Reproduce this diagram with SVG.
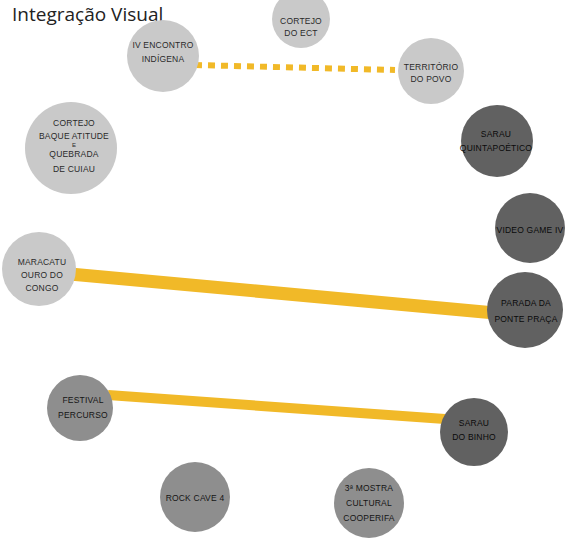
<svg xmlns="http://www.w3.org/2000/svg" width="565" height="540" viewBox="0 0 565 540">
  <style>
    .title { font-family: "Open Sans", "DejaVu Sans", sans-serif; font-size: 19px; fill: #222; }
    .lbl { font-family: "Liberation Sans", Arial, sans-serif; font-size: 8.5px; text-anchor: middle; letter-spacing: 0.2px; }
    .light circle { fill: #c9c9c9; }
    .light text { fill: #2a2a2a; }
    .mid circle { fill: #8e8e8e; }
    .mid text { fill: #151515; }
    .dark circle { fill: #616161; }
    .dark text { fill: #0a0a0a; }
    .link { stroke: #f1b928; fill: none; }
  </style>
  <rect width="565" height="540" fill="#ffffff"/>
  <text class="title" x="12" y="21">Integração Visual</text>

  <!-- connectors -->
  <g id="connectors">
    <line class="link" x1="195" y1="65" x2="395" y2="70" stroke-width="6" stroke-dasharray="7 6"/>
    <line class="link" x1="70" y1="274" x2="495" y2="313" stroke-width="13"/>
    <line class="link" x1="108" y1="395" x2="445" y2="419" stroke-width="10"/>
  </g>

  <!-- nodes -->
  <g id="n-encontro" class="light">
    <circle cx="163" cy="56" r="36"/>
    <text class="lbl" x="163" y="48">IV ENCONTRO</text>
    <text class="lbl" x="163" y="62">INDÍGENA</text>
  </g>
  <g id="n-cortejo-ect" class="light">
    <circle cx="301" cy="19" r="29"/>
    <text class="lbl" x="301" y="24">CORTEJO</text>
    <text class="lbl" x="301" y="36">DO ECT</text>
  </g>
  <g id="n-territorio" class="light">
    <circle cx="431" cy="71" r="33"/>
    <text class="lbl" x="431" y="70">TERRITÓRIO</text>
    <text class="lbl" x="431" y="82">DO POVO</text>
  </g>
  <g id="n-baque" class="light">
    <circle cx="71" cy="148" r="46"/>
    <text class="lbl" x="74" y="126">CORTEJO</text>
    <text class="lbl" x="74" y="139">BAQUE ATITUDE</text>
    <text class="lbl" x="74" y="147" style="font-size:6px">E</text>
    <text class="lbl" x="74" y="157">QUEBRADA</text>
    <text class="lbl" x="74" y="172">DE CUIAU</text>
  </g>
  <g id="n-quinta" class="dark">
    <circle cx="497" cy="141" r="36"/>
    <text class="lbl" x="496" y="137">SARAU</text>
    <text class="lbl" x="496" y="151">QUINTAPOÉTICO</text>
  </g>
  <g id="n-videogame" class="dark">
    <circle cx="530" cy="228" r="35"/>
    <text class="lbl" x="530" y="233">VIDEO GAME IV</text>
  </g>
  <g id="n-maracatu" class="light">
    <circle cx="39" cy="269" r="37"/>
    <text class="lbl" x="42" y="265">MARACATU</text>
    <text class="lbl" x="42" y="278">OURO DO</text>
    <text class="lbl" x="42" y="291">CONGO</text>
  </g>
  <g id="n-parada" class="dark">
    <circle cx="525" cy="310" r="38"/>
    <text class="lbl" x="526" y="306">PARADA DA</text>
    <text class="lbl" x="526" y="322">PONTE PRAÇA</text>
  </g>
  <g id="n-festival" class="mid">
    <circle cx="80" cy="408" r="33"/>
    <text class="lbl" x="83" y="403">FESTIVAL</text>
    <text class="lbl" x="83" y="418">PERCURSO</text>
  </g>
  <g id="n-binho" class="dark">
    <circle cx="474" cy="432" r="34"/>
    <text class="lbl" x="474" y="426">SARAU</text>
    <text class="lbl" x="474" y="440">DO BINHO</text>
  </g>
  <g id="n-rock" class="mid">
    <circle cx="195" cy="497" r="35"/>
    <text class="lbl" x="195" y="501">ROCK CAVE 4</text>
  </g>
  <g id="n-mostra" class="mid">
    <circle cx="369" cy="503" r="35"/>
    <text class="lbl" x="369" y="491">3ª MOSTRA</text>
    <text class="lbl" x="369" y="506">CULTURAL</text>
    <text class="lbl" x="369" y="521">COOPERIFA</text>
  </g>
</svg>
